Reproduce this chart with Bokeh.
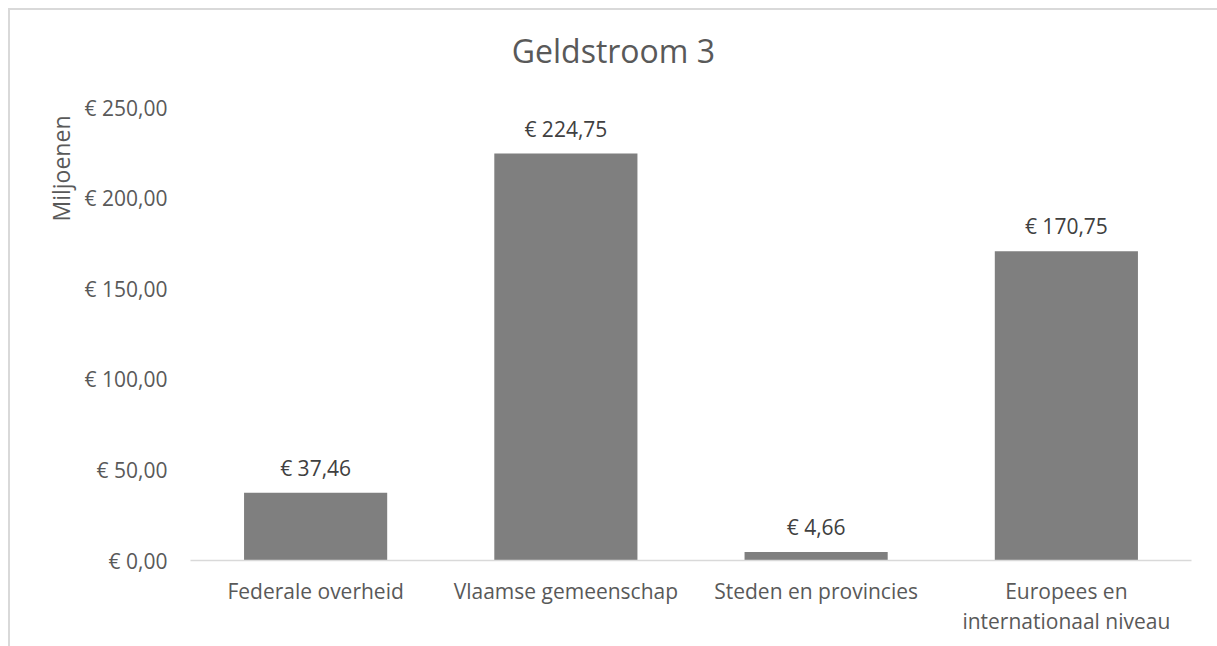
from bokeh.plotting import figure
from bokeh.models import ColumnDataSource, FactorRange, Range1d, Title, Label, FixedTicker, CustomJSTickFormatter
from bokeh.core.properties import value
from bokeh.embed import file_html
from bokeh.resources import INLINE

categories = ["Federale overheid", "Vlaamse gemeenschap", "Steden en provincies", "Europees en\ninternationaal niveau"]
values = [37.46, 224.75, 4.66, 170.75]
labels = ["€ 37,46", "€ 224,75", "€ 4,66", "€ 170,75"]
y_ticks = [0, 50, 100, 150, 200, 250]
title_text = "Geldstroom 3"
y_unit_label = "Miljoenen"

FONT = "Open Sans"
TXT = "#595959"

source = ColumnDataSource(data=dict(cat=categories, val=values, lab=labels))

# the plot frame extends above the top tick so the chart title can sit inside it
y_max = 298.2

p = figure(
    x_range=FactorRange(*categories, range_padding=0),
    y_range=Range1d(0, y_max),
    width=1209, height=638,
    output_backend="svg", toolbar_location=None,
    min_border_left=180, min_border_right=28, min_border_top=10, min_border_bottom=88,
)
p.styles = {"margin-left": "8px", "margin-top": "8px",
            "border-top": "2px solid #d9d9d9", "border-left": "2px solid #d9d9d9", "box-sizing": "border-box"}

p.vbar(x="cat", top="val", width=0.572, source=source, fill_color="#7f7f7f", line_color=None)
p.text(x="cat", y="val", text="lab", source=source, text_align="center", text_baseline="bottom",
       y_offset=-11, text_font=value(FONT), text_font_size="21px", text_color="#404040")

p.outline_line_color = None
p.xgrid.grid_line_color = None
p.ygrid.grid_line_color = None

p.xaxis.axis_line_color = "#d9d9d9"
p.xaxis.axis_line_width = 1.5
p.xaxis.major_tick_line_color = None
p.xaxis.minor_tick_line_color = None
p.xaxis.major_tick_out = 0
p.xaxis.major_label_text_font = FONT
p.xaxis.major_label_text_font_size = "21px"
p.xaxis.major_label_text_color = TXT
p.xaxis.major_label_text_line_height = 1.1
p.xaxis.major_label_standoff = 16

p.yaxis.axis_line_color = None
p.yaxis.major_tick_line_color = None
p.yaxis.minor_tick_line_color = None
p.yaxis.major_tick_out = 0
p.yaxis.ticker = FixedTicker(ticks=y_ticks)
p.yaxis.formatter = CustomJSTickFormatter(code="return '€ ' + tick.toFixed(2).replace('.', ',');")
p.yaxis.major_label_text_font = FONT
p.yaxis.major_label_text_font_size = "21px"
p.yaxis.major_label_text_color = TXT
p.yaxis.major_label_standoff = 23

# chart title, centred on the whole chart area (not on the plot frame)
title = Label(x=1.69, y=281.6, text=title_text, text_align="center", text_baseline="middle",
              text_font=FONT, text_font_size="32px", text_color=TXT)
p.add_layout(title)

ylab = Title(text=y_unit_label, align="right", text_font=FONT, text_font_size="23px",
             text_font_style="normal", text_color=TXT, offset=95, standoff=10)
p.add_layout(ylab, "left")

open("out.html", "w").write(file_html(p, INLINE))
